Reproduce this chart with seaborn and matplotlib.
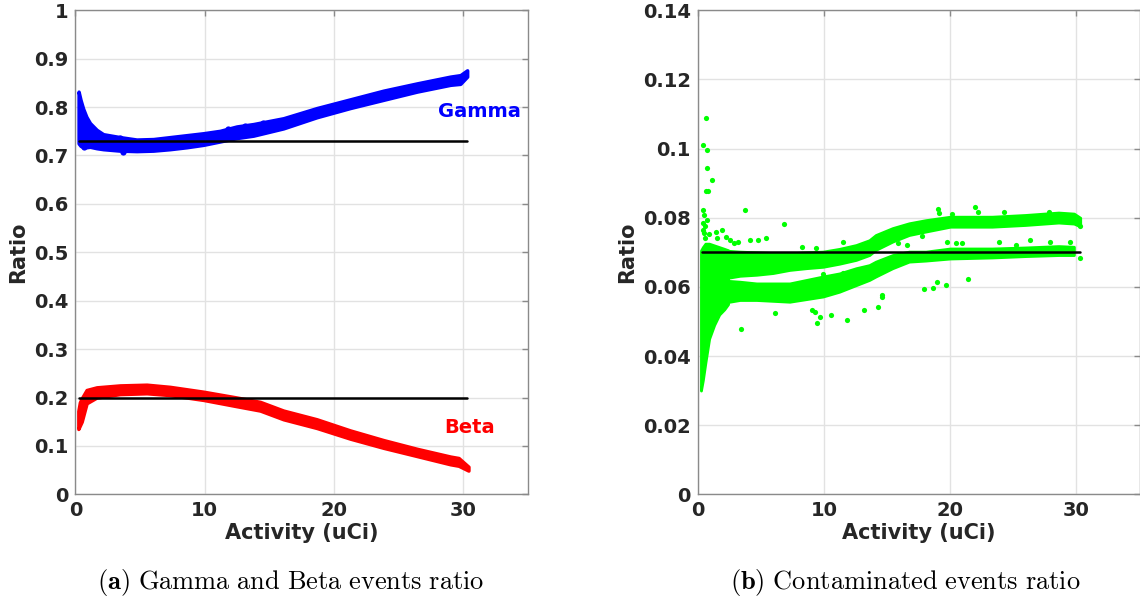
import numpy as np
import pandas as pd
import matplotlib
matplotlib.use("Agg")
import matplotlib.pyplot as plt
import seaborn as sns

# ---------------- data ----------------
x_ticks = [0, 10, 20, 30]
x_tick_labels = ["0", "10", "20", "30"]
left_y_ticks = [0, 0.1, 0.2, 0.3, 0.4, 0.5, 0.6, 0.7, 0.8, 0.9, 1.0]
left_y_tick_labels = ["0", "0.1", "0.2", "0.3", "0.4", "0.5", "0.6", "0.7", "0.8", "0.9", "1"]
right_y_ticks = [0, 0.02, 0.04, 0.06, 0.08, 0.10, 0.12, 0.14]
right_y_tick_labels = ["0", "0.02", "0.04", "0.06", "0.08", "0.1", "0.12", "0.14"]

# Gamma ratio band (lower / upper edge of the dense scatter)
gamma_x  = [0.25, 0.40, 0.60, 0.85, 1.13, 1.65, 2.16, 3.45, 4.74, 6.03, 7.32, 8.61, 9.90,
            11.19, 12.48, 13.77, 16.09, 18.67, 21.25, 23.83, 26.42, 29.00, 29.77, 30.30]
gamma_lo = [0.725, 0.720, 0.717, 0.717, 0.718, 0.715, 0.713, 0.710, 0.709, 0.710, 0.713, 0.717, 0.722,
            0.729, 0.736, 0.741, 0.756, 0.779, 0.798, 0.815, 0.832, 0.846, 0.848, 0.863]
gamma_hi = [0.832, 0.815, 0.797, 0.780, 0.767, 0.753, 0.744, 0.738, 0.733, 0.734, 0.738, 0.742, 0.746,
            0.751, 0.760, 0.765, 0.777, 0.798, 0.816, 0.834, 0.849, 0.863, 0.866, 0.876]
gamma_stray_x = [0.67, 1.13, 3.71, 3.45, 11.84, 13.13, 14.55, 18.03, 18.93, 19.70, 21.38]
gamma_stray_y = [0.718, 0.721, 0.708, 0.736, 0.754, 0.760, 0.768, 0.788, 0.794, 0.800, 0.811]

# Beta ratio band
beta_x  = [0.23, 0.35, 0.49, 0.87, 1.65, 3.45, 5.52, 7.32, 9.90, 12.48, 14.29,
           16.09, 18.67, 21.25, 23.83, 26.42, 29.00, 29.64, 30.40]
beta_lo = [0.135, 0.142, 0.150, 0.188, 0.200, 0.207, 0.2087, 0.205, 0.195, 0.182, 0.173,
           0.155, 0.137, 0.115, 0.096, 0.079, 0.062, 0.059, 0.049]
beta_hi = [0.172, 0.190, 0.198, 0.2155, 0.221, 0.225, 0.2265, 0.222, 0.212, 0.200, 0.191,
           0.173, 0.155, 0.132, 0.112, 0.094, 0.078, 0.075, 0.057]

# Contaminated ratio: dense early blob, upper and lower branches
cont_blob_x  = [0.25, 0.40, 0.60, 0.90, 1.30, 1.70, 2.10, 2.40]
cont_blob_lo = [0.030, 0.033, 0.038, 0.045, 0.049, 0.052, 0.0535, 0.055]
cont_blob_hi = [0.0705, 0.0715, 0.0725, 0.0725, 0.0720, 0.0715, 0.0710, 0.0706]

cont_up_x  = [2.20, 3.33, 4.65, 5.96, 7.28, 8.59, 9.91, 11.22, 12.54, 13.59, 14.10, 15.43,
              16.74, 18.06, 20.00, 23.32, 25.95, 28.58, 29.80, 30.30]
cont_up_lo = [0.0625, 0.0632, 0.0635, 0.0640, 0.0649, 0.0654, 0.0658, 0.0667, 0.0678, 0.0692, 0.0707, 0.0731,
              0.0750, 0.0760, 0.0774, 0.0774, 0.0779, 0.0786, 0.0783, 0.0775]
cont_up_hi = [0.0705, 0.0702, 0.0700, 0.0698, 0.0697, 0.0700, 0.0702, 0.0710, 0.0721, 0.0735, 0.0750, 0.0770,
              0.0784, 0.0793, 0.0803, 0.0803, 0.0808, 0.0815, 0.0812, 0.0800]

cont_lo_x  = [2.20, 3.33, 4.65, 7.28, 9.91, 11.22, 12.54, 13.59, 14.10, 15.43, 16.74, 18.06,
              20.00, 23.32, 25.95, 28.58, 29.80]
cont_lo_lo = [0.0555, 0.0562, 0.0562, 0.0557, 0.0572, 0.0586, 0.0605, 0.0620, 0.0630, 0.0654, 0.0673, 0.0676,
              0.0682, 0.0685, 0.0689, 0.0692, 0.0692]
cont_lo_hi = [0.0618, 0.0615, 0.0610, 0.0610, 0.0630, 0.0639, 0.0654, 0.0663, 0.0673, 0.0692, 0.0702, 0.0702,
              0.0711, 0.0711, 0.0714, 0.0718, 0.0716]

cont_out_x = [0.65, 0.44, 0.70, 0.75, 1.15, 0.62, 0.83, 0.44, 0.49, 0.70, 3.73, 6.80,
              1.44, 1.94, 1.49, 2.54, 3.20, 4.12, 4.78, 5.44, 8.28, 9.33, 11.54, 13.06,
              0.55, 0.90, 2.20, 2.90, 0.40, 0.45, 0.50, 0.55,
              9.91, 10.70, 11.50,
              3.42, 6.14, 9.08, 9.25, 9.46, 9.68, 10.55, 11.79, 13.16, 14.24, 14.60, 14.62,
              17.93, 18.64, 18.99, 19.70, 21.43,
              19.04, 19.10, 20.12, 21.94, 22.20, 24.25, 27.80,
              15.83, 16.60, 17.80, 19.77, 20.48, 20.96, 23.90, 25.20, 26.36, 27.93, 29.50,
              30.28, 30.30]
cont_out_y = [0.1088, 0.1010, 0.0996, 0.0943, 0.0909, 0.0878, 0.0878, 0.0823, 0.0808, 0.0793, 0.0823, 0.0782,
              0.0760, 0.0765, 0.0740, 0.0735, 0.0731, 0.0735, 0.0735, 0.0740, 0.0714, 0.0711, 0.0730, 0.0721,
              0.0775, 0.0752, 0.0745, 0.0728, 0.0785, 0.0765, 0.0755, 0.0740,
              0.0637, 0.0625, 0.0640,
              0.0477, 0.0525, 0.0533, 0.0528, 0.0495, 0.0514, 0.0519, 0.0504, 0.0533, 0.0543, 0.0576, 0.0570,
              0.0593, 0.0596, 0.0615, 0.0606, 0.0622,
              0.0824, 0.0815, 0.0811, 0.0832, 0.0818, 0.0818, 0.0818,
              0.0726, 0.0721, 0.0747, 0.0731, 0.0728, 0.0728, 0.0731, 0.0721, 0.0737, 0.0731, 0.0731,
              0.0684, 0.0775]

# reference (mean) lines
ref_x = [0.3, 30.3]
gamma_ref = 0.73
beta_ref = 0.20
cont_ref = 0.07

# ---------------- styling ----------------
sns.set_theme(style="white")
plt.rcParams['font.family'] = ['DejaVu Sans']
plt.rcParams['mathtext.fontset'] = 'cm'

BLUE = '#0000ff'
RED = '#ff0000'
GREEN = '#00ff00'
TXT = '#262626'
SPINE = '#8a8a8a'

fig = plt.figure(figsize=(11.4, 6.02), dpi=100)
axL = fig.add_axes([0.0661, 0.1789, 0.3970, 0.8040])
axR = fig.add_axes([0.6121, 0.1789, 0.3875, 0.8040])


def band(ax, x, lo, hi, color, lw):
    ax.fill_between(x, lo, hi, facecolor=color, edgecolor=color, linewidth=lw,
                    joinstyle='round', capstyle='round')


def style(ax, yt, ytl, ylim):
    ax.set_xlim(0, 35)
    ax.set_ylim(*ylim)
    ax.set_xticks(x_ticks)
    ax.set_xticklabels(x_tick_labels)
    ax.set_yticks(yt)
    ax.set_yticklabels(ytl)
    ax.grid(True, color='#e2e2e2', linewidth=1.0)
    ax.set_axisbelow(True)
    ax.tick_params(direction='in', length=4, width=1, top=True, right=True,
                   color=SPINE, labelcolor=TXT, labelsize=14, pad=5)
    for lab in ax.get_xticklabels() + ax.get_yticklabels():
        lab.set_fontweight('bold')
    for sp in ax.spines.values():
        sp.set_visible(True)
        sp.set_color(SPINE)
        sp.set_linewidth(1.0)
    ax.set_xlabel('Activity (uCi)', fontsize=15, fontweight='bold', color=TXT, labelpad=2)
    ax.set_ylabel('Ratio', fontsize=15, fontweight='bold', color=TXT, labelpad=4)


# ---- left panel ----
band(axL, gamma_x, gamma_lo, gamma_hi, BLUE, 2.5)
sns.scatterplot(x=gamma_stray_x, y=gamma_stray_y, color=BLUE, s=20, linewidth=0, ax=axL, legend=False)
band(axL, beta_x, beta_lo, beta_hi, RED, 2.5)
sns.lineplot(x=ref_x, y=[gamma_ref] * 2, color='black', linewidth=1.8, ax=axL)
sns.lineplot(x=ref_x, y=[beta_ref] * 2, color='black', linewidth=1.8, ax=axL)
axL.text(31.28, 0.790, 'Gamma', color=BLUE, fontsize=14, fontweight='bold', ha='center', va='center')
axL.text(30.5, 0.1376, 'Beta', color=RED, fontsize=14, fontweight='bold', ha='center', va='center')
style(axL, left_y_ticks, left_y_tick_labels, (0, 1))

# ---- right panel ----
band(axR, cont_blob_x, cont_blob_lo, cont_blob_hi, GREEN, 2.0)
band(axR, cont_up_x, cont_up_lo, cont_up_hi, GREEN, 2.0)
band(axR, cont_lo_x, cont_lo_lo, cont_lo_hi, GREEN, 2.0)
sns.scatterplot(x=cont_out_x, y=cont_out_y, color=GREEN, s=14, linewidth=0, ax=axR, legend=False)
sns.lineplot(x=ref_x, y=[cont_ref] * 2, color='black', linewidth=1.8, ax=axR)
style(axR, right_y_ticks, right_y_tick_labels, (0, 0.14))

# ---- captions ----
fig.text(0.255, 0.032, r'$\mathbf{(a)}\ \mathrm{Gamma\ and\ Beta\ events\ ratio}$',
         fontsize=19, ha='center', va='center', color='black')
fig.text(0.7944, 0.032, r'$\mathbf{(b)}\ \mathrm{Contaminated\ events\ ratio}$',
         fontsize=19, ha='center', va='center', color='black')

fig.savefig('out.png', dpi=100)
